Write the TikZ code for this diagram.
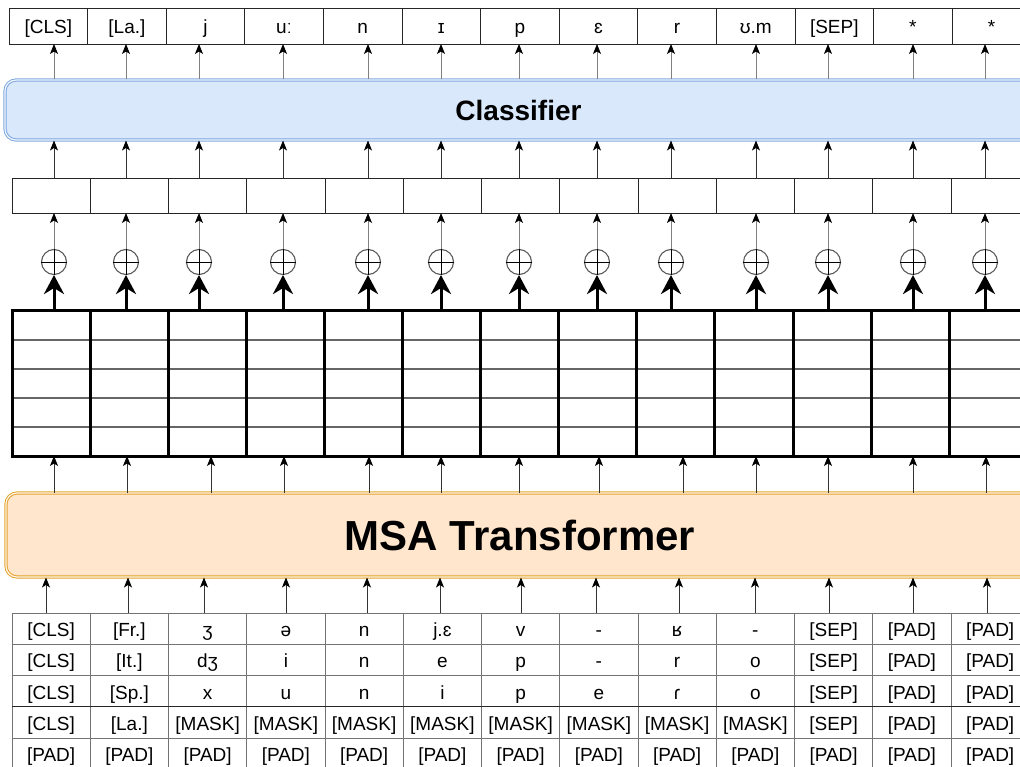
\documentclass[tikz,border=0pt]{standalone}
\usepackage{fontspec}
\setmainfont{Liberation Sans}
\usepackage{xcolor}
\usetikzlibrary{arrows.meta, positioning}

\definecolor{clsfill}{HTML}{DAE8FC}
\definecolor{clsline}{HTML}{7EA6E0}
\definecolor{msafill}{HTML}{FFE6CC}
\definecolor{msaline}{HTML}{E3A32A}

\begin{document}
\begin{tikzpicture}[
  x=1pt, y=-1pt,
  >={Stealth[length=10pt, width=8pt, inset=2.5pt, color=black]},
  cell/.style={draw=black!85, line width=0.9pt, outer sep=0pt, inner sep=0pt, text height=18pt, text depth=2pt,
    font=\fontsize{19}{19}\selectfont},
  outcell/.style={cell, minimum width=78.6pt, minimum height=36pt},
  embcell/.style={cell, minimum width=78.25pt, minimum height=35pt},
  tokcell/.style={cell, draw=black!55, minimum width=78.25pt, minimum height=31.3pt},
  msacol/.style={draw, line width=3pt, outer sep=0pt, minimum width=78.1pt, minimum height=145pt},
  stagebox/.style={rounded corners=11pt, line width=1pt, double distance=1.2pt},
  link/.style={->, line width=0.9pt, draw=black!80},
  fadelink/.style={link, draw=black!50},
  fatlink/.style={-{Stealth[length=19pt, width=20pt, inset=6pt]}, line width=3pt},
  sumnode/.style={circle, draw=black!65, line width=1.1pt, minimum size=25pt, inner sep=0pt}
]
\useasboundingbox (0,0) rectangle (1020,767);
\clip (0,0) rectangle (1020,767);

% predicted tokens
\node[outcell, anchor=north west] (o1) at (9,8) {[CLS]};
\foreach \t [count=\i from 2, remember=\i as \j (initially 1)] in {[La.],j,uː,n,ɪ,p,ɛ,r,ʊ.m,[SEP],*,*}
  \node[outcell] (o\i) [right=0pt of o\j] {\t};

% classifier
\node[stagebox, fill=clsfill, draw=clsline, double=clsfill!35!white, minimum width=1027pt, minimum height=60pt,
  font=\bfseries\fontsize{28}{28}\selectfont] (clf) at (518.5,110) {Classifier};

% embeddings
\node[embcell, anchor=north west] (e1) at (12,178) {};
\foreach \i [remember=\i as \j (initially 1)] in {2,...,13}
  \node[embcell] (e\i) [right=0pt of e\j] {};

% sums
\foreach \x [count=\i] in {54,126,199,283,368,441,519,597,671,756,828,913,985} {
  \node[sumnode] (s\i) at (\x,262) {};
  \draw[line width=0.8pt] (s\i.north) -- (s\i.south) (s\i.west) -- (s\i.east);
}

% MSA output grid
\foreach \y in {340,369,398,427}
  \draw[black!60, line width=1.3pt] (12,\y) -- (1040,\y);
\node[msacol, anchor=north west] (g1) at (12,311) {};
\foreach \i [remember=\i as \j (initially 1)] in {2,...,13}
  \node[msacol] (g\i) [right=0pt of g\j] {};

% MSA transformer
\node[stagebox, fill=msafill, draw=msaline, double=msafill!40!white, minimum width=1028pt, minimum height=84pt,
  font=\bfseries\fontsize{42}{42}\selectfont] (msa) at (520,535) {MSA Transformer};

% input alignment
\foreach \row [count=\r] in {
  {[CLS],[Fr.],ʒ,ə,n,j.ɛ,v,-,ʁ,-,[SEP],[PAD],[PAD]},
  {[CLS],[It.],dʒ,i,n,e,p,-,r,o,[SEP],[PAD],[PAD]},
  {[CLS],[Sp.],x,u,n,i,p,e,ɾ,o,[SEP],[PAD],[PAD]},
  {[CLS],[La.],[MASK],[MASK],[MASK],[MASK],[MASK],[MASK],[MASK],[MASK],[SEP],[PAD],[PAD]},
  {[PAD],[PAD],[PAD],[PAD],[PAD],[PAD],[PAD],[PAD],[PAD],[PAD],[PAD],[PAD],[PAD]}} {
  \foreach \t [count=\c] in \row
    \node[tokcell, anchor=north west] (t\r-\c) at ({12+78.25*(\c-1)}, {613+31.3*(\r-1)}) {\t};
}
\draw[black!85, line width=0.9pt] (t4-1.north west) -- (t4-13.north east);

% arrows
\foreach \i in {1,...,13} {
  \draw[fadelink] (clf.north -| s\i) -- (o\i.south -| s\i);
  \draw[link] (e\i.north -| s\i) -- (clf.south -| s\i);
  \draw[fadelink] (s\i.north) -- (e\i.south -| s\i);
  \draw[fatlink] (g\i.north -| s\i) -- (s\i.south);
}
\foreach \x [count=\i] in {54,127,211,284,369,441,519,599,683,756,828,913,986} {
  \coordinate (m\i) at (\x,0);
  \draw[link] (msa.north -| m\i) -- (g\i.south -| m\i);
}
\foreach \x [count=\i] in {46,128,204,286,367,440,521,596,679,755,829,913,987} {
  \coordinate (k\i) at (\x,0);
  \draw[link] (t1-\i.north -| k\i) -- (msa.south -| k\i);
}
\end{tikzpicture}
\end{document}
